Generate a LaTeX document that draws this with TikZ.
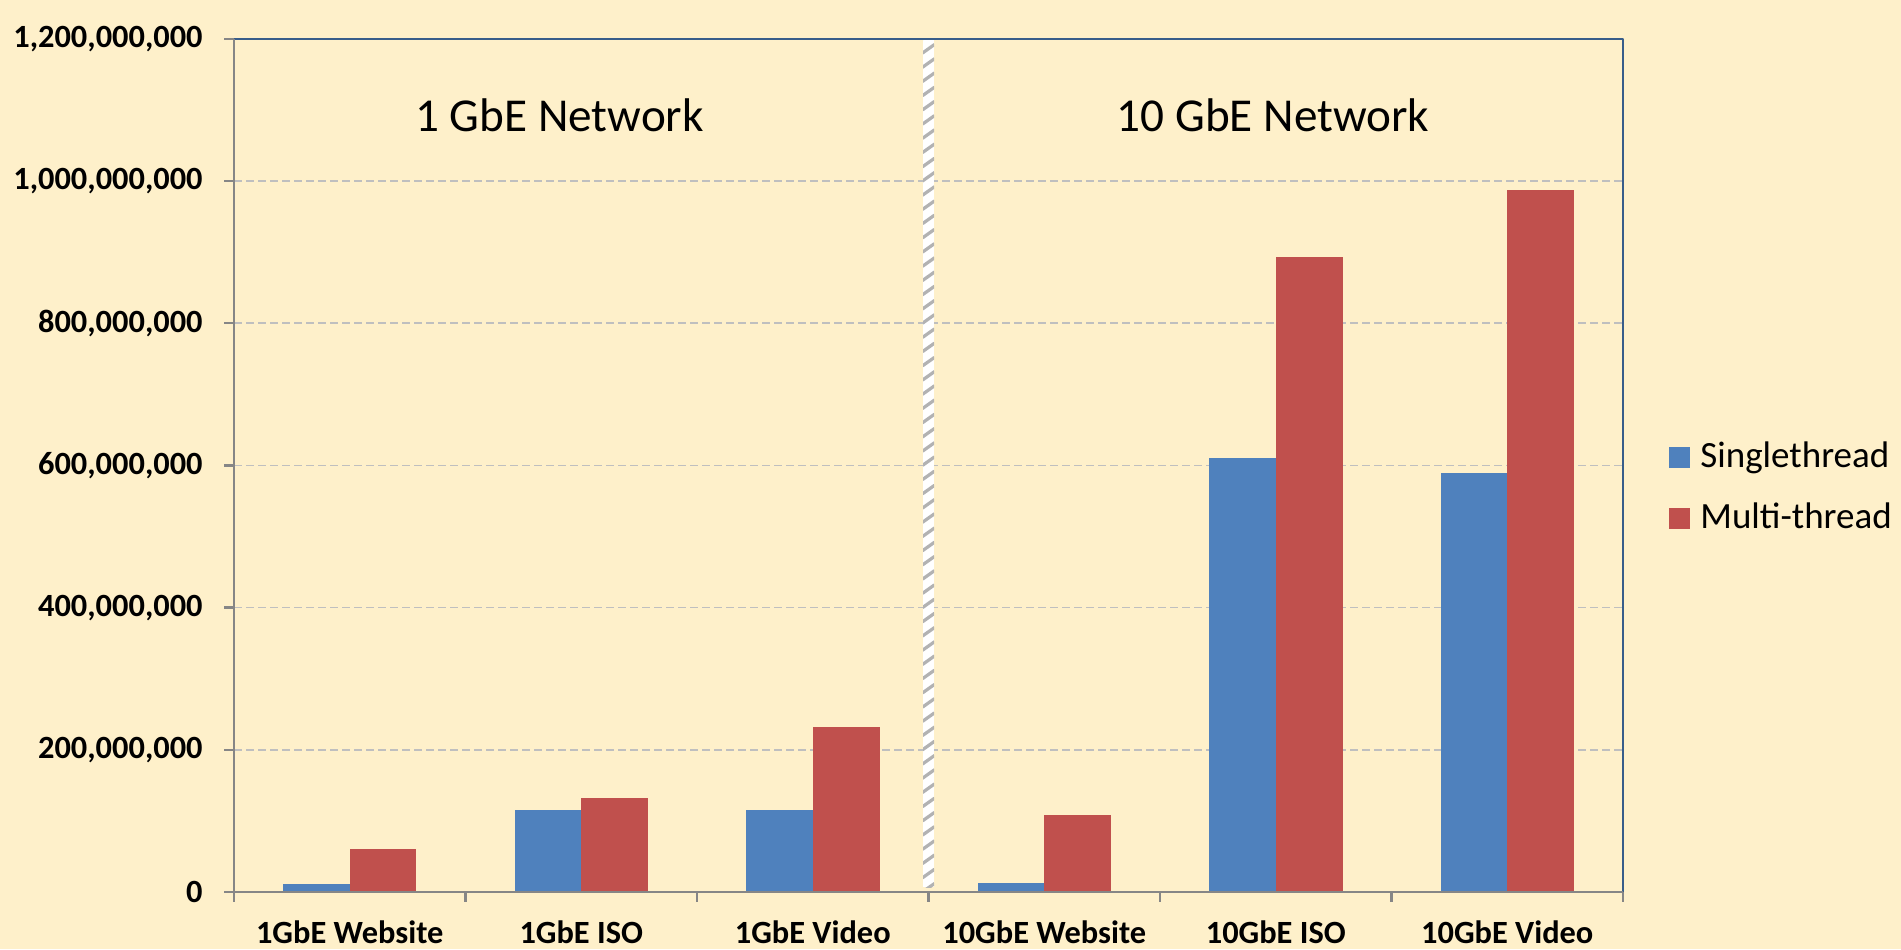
\documentclass[tikz,border=0pt]{standalone}
\usepackage{fontspec}
\setmainfont{Carlito}
\definecolor{nen}{HTML}{FEF0CA}
\definecolor{xanh}{HTML}{4F81BD}
\definecolor{do}{HTML}{C0504D}
\definecolor{vien}{HTML}{385D8A}
\definecolor{truc}{HTML}{868686}
\definecolor{luoi}{HTML}{BFBFBF}
\tikzset{
	cot1/.style={fill=xanh},
	cot2/.style={fill=do},
	duongluoi/.style={luoi, dashed, dash pattern=on 4pt off 2pt, line width=0.8pt},
	nhantruc/.style={font=\fontsize{16.2}{19}\selectfont\bfseries, inner sep=0pt},
	nhanmang/.style={font=\fontsize{23.6}{28}\selectfont, inner sep=0pt, anchor=base},
	nhanchu/.style={font=\fontsize{18.5}{22}\selectfont, inner sep=0pt, anchor=base west}
}
\begin{document}
\begin{tikzpicture}[x=0.5pt, y=0.5pt, line join=round]
	\fill[nen] (0,0) rectangle (1901,949);
	\useasboundingbox (0,0) rectangle (1901,949);
	\begin{scope}[xshift=117pt, yshift=28.5pt, x=115.75pt, y=35.55pt]
		\coordinate (O) at (0,0);
		\coordinate (T) at (0,12);
		\coordinate (R) at (6,0);
		\coordinate (TR) at (6,12);
		% luoi ngang
		\foreach \k in {2,4,...,10} \draw[duongluoi] (0,\k) -- (6,\k);
		% cac cot
		\foreach \i/\s/\m in {0/0.11/0.60, 1/1.16/1.32, 2/1.16/2.32, 3/0.12/1.08, 4/6.10/8.93, 5/5.89/9.87} {
			\fill[cot1] (\i+0.2117,0) rectangle (\i+0.5,\s);
			\fill[cot2] (\i+0.5,0) rectangle (\i+0.7883,\m);
		}
		% vach ngan
		\coordinate (V1) at ([xshift=-2.75pt]3,0.07);
		\coordinate (V2) at ([xshift=2.75pt]3,12);
		\fill[white] (V1) rectangle (V2);
		\begin{scope}
			\clip (V1) rectangle (V2);
			\foreach \t in {-0.2,0,...,12.2}
				\draw[gray!60, line width=1.6pt] ([xshift=-3pt]3,\t) -- ([xshift=3pt]3,\t+0.12);
		\end{scope}
		% truc
		\draw[vien, line width=1.2pt] (T) -- (TR) -- (R);
		\draw[truc, line width=1.2pt] (T) -- (O) -- (R);
		\foreach \k/\nhan in {0/0, 2/{200,000,000}, 4/{400,000,000}, 6/{600,000,000}, 8/{800,000,000}, 10/{1,000,000,000}, 12/{1,200,000,000}} {
			\draw[truc, line width=1.2pt] (0,\k) -- ++(-5pt,0);
			\node[nhantruc, anchor=east] (y\k) at ([xshift=-15.5pt]0,\k) {\nhan};
		}
		\foreach \i in {0,...,6} \draw[truc, line width=1.2pt] (\i,0) -- ++(0,-5pt);
		\foreach \i/\nhan in {0/1GbE Website, 1/1GbE ISO, 2/1GbE Video, 3/10GbE Website, 4/10GbE ISO, 5/10GbE Video}
			\node[nhantruc, anchor=base] (x\i) at ([yshift=-25.5pt]\i+0.5,0) {\nhan};
	\end{scope}
	% tieu de
	\node[nhanmang] (mang1) at (559.5,817) {1 GbE Network};
	\node[nhanmang] (mang10) at (1273,817) {10 GbE Network};
	% chu thich
	\node[cot1, minimum size=10.5pt, inner sep=0pt] (o1) at (1679.5,491.5) {};
	\node[nhanchu] (t1) at (1700,481) {Singlethread};
	\node[cot2, minimum size=10.5pt, inner sep=0pt] (o2) at (1679.5,430.5) {};
	\node[nhanchu] (t2) at (1700,420) {Multi-thread};
\end{tikzpicture}
\end{document}
